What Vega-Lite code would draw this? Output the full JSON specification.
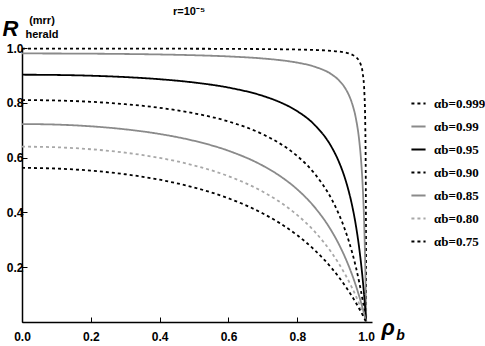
{
  "$schema": "https://vega.github.io/schema/vega-lite/v6.json",
  "autosize": {"type": "none"},
  "padding": {"left": 22, "top": 48, "right": 113, "bottom": 24},
  "width": 350,
  "height": 274,
  "title": {"text": "r=10⁻⁵", "font": "Liberation Sans", "fontSize": 11, "fontWeight": "bold", "offset": -2, "dx": -8, "anchor": "middle", "color": "black"},
  "config": {
    "view": {"stroke": null},
    "axis": {"grid": false, "domainColor": "black", "domainWidth": 1.5, "tickColor": "black", "tickWidth": 1, "labelFont": "Liberation Sans", "labelFontWeight": "bold", "labelFontSize": 12, "labelColor": "black", "labelOverlap": false, "labelFlush": false, "labelBound": false, "titleColor": "black"}
  },
  "layer": [
    {
      "data": {"values": [
        {"a":"0.999","rho":0,"R":0.998},{"a":"0.999","rho":0.1,"R":0.99798},{"a":"0.999","rho":0.2,"R":0.99792},{"a":"0.999","rho":0.3,"R":0.9978},{"a":"0.999","rho":0.4,"R":0.99762},{"a":"0.999","rho":0.5,"R":0.99734},{"a":"0.999","rho":0.6,"R":0.99688},{"a":"0.999","rho":0.7,"R":0.99609},{"a":"0.999","rho":0.75,"R":0.99544},{"a":"0.999","rho":0.8,"R":0.99447},{"a":"0.999","rho":0.85,"R":0.99283},{"a":"0.999","rho":0.9,"R":0.98957},{"a":"0.999","rho":0.92,"R":0.98713},{"a":"0.999","rho":0.94,"R":0.98308},{"a":"0.999","rho":0.95,"R":0.97987},{"a":"0.999","rho":0.96,"R":0.97509},{"a":"0.999","rho":0.97,"R":0.96722},{"a":"0.999","rho":0.98,"R":0.95186},{"a":"0.999","rho":0.985,"R":0.93697},{"a":"0.999","rho":0.99,"R":0.90855},{"a":"0.999","rho":0.995,"R":0.83278},{"a":"0.999","rho":0.9975,"R":0.71373},{"a":"0.999","rho":0.999,"R":0.4995},{"a":"0.999","rho":0.9995,"R":0.33295},{"a":"0.999","rho":0.9998,"R":0.16645},{"a":"0.999","rho":1,"R":0},
        {"a":"0.99","rho":0,"R":0.9801},{"a":"0.99","rho":0.1,"R":0.9799},{"a":"0.99","rho":0.2,"R":0.97929},{"a":"0.99","rho":0.3,"R":0.97818},{"a":"0.99","rho":0.4,"R":0.9764},{"a":"0.99","rho":0.5,"R":0.97364},{"a":"0.99","rho":0.6,"R":0.96925},{"a":"0.99","rho":0.7,"R":0.96171},{"a":"0.99","rho":0.75,"R":0.95565},{"a":"0.99","rho":0.8,"R":0.94661},{"a":"0.99","rho":0.85,"R":0.93182},{"a":"0.99","rho":0.9,"R":0.90346},{"a":"0.99","rho":0.92,"R":0.88325},{"a":"0.99","rho":0.94,"R":0.85148},{"a":"0.99","rho":0.95,"R":0.82765},{"a":"0.99","rho":0.96,"R":0.7943},{"a":"0.99","rho":0.97,"R":0.7443},{"a":"0.99","rho":0.98,"R":0.66106},{"a":"0.99","rho":0.985,"R":0.59456},{"a":"0.99","rho":0.99,"R":0.49497},{"a":"0.99","rho":0.995,"R":0.32944},{"a":"0.99","rho":0.9975,"R":0.1974},{"a":"0.99","rho":0.999,"R":0.08963},{"a":"0.99","rho":1,"R":0},
        {"a":"0.95","rho":0,"R":0.9025},{"a":"0.95","rho":0.1,"R":0.90161},{"a":"0.95","rho":0.2,"R":0.89885},{"a":"0.95","rho":0.3,"R":0.89388},{"a":"0.95","rho":0.4,"R":0.88604},{"a":"0.95","rho":0.5,"R":0.87409},{"a":"0.95","rho":0.6,"R":0.85558},{"a":"0.95","rho":0.7,"R":0.8252},{"a":"0.95","rho":0.75,"R":0.80197},{"a":"0.95","rho":0.8,"R":0.76918},{"a":"0.95","rho":0.85,"R":0.71978},{"a":"0.95","rho":0.9,"R":0.63751},{"a":"0.95","rho":0.92,"R":0.58708},{"a":"0.95","rho":0.94,"R":0.51864},{"a":"0.95","rho":0.95,"R":0.47438},{"a":"0.95","rho":0.96,"R":0.42053},{"a":"0.95","rho":0.97,"R":0.35361},{"a":"0.95","rho":0.98,"R":0.26823},{"a":"0.95","rho":0.985,"R":0.21606},{"a":"0.95","rho":0.99,"R":0.15555},{"a":"0.95","rho":0.995,"R":0.08453},{"a":"0.95","rho":0.9975,"R":0.04418},{"a":"0.95","rho":0.999,"R":0.01817},{"a":"0.95","rho":1,"R":0},
        {"a":"0.90","rho":0,"R":0.81},{"a":"0.90","rho":0.1,"R":0.80845},{"a":"0.90","rho":0.2,"R":0.80364},{"a":"0.90","rho":0.3,"R":0.79506},{"a":"0.90","rho":0.4,"R":0.78171},{"a":"0.90","rho":0.5,"R":0.76176},{"a":"0.90","rho":0.6,"R":0.73179},{"a":"0.90","rho":0.7,"R":0.68496},{"a":"0.90","rho":0.75,"R":0.65098},{"a":"0.90","rho":0.8,"R":0.60549},{"a":"0.90","rho":0.85,"R":0.54192},{"a":"0.90","rho":0.9,"R":0.44751},{"a":"0.90","rho":0.92,"R":0.39571},{"a":"0.90","rho":0.94,"R":0.33166},{"a":"0.90","rho":0.95,"R":0.29362},{"a":"0.90","rho":0.96,"R":0.2505},{"a":"0.90","rho":0.97,"R":0.20125},{"a":"0.90","rho":0.98,"R":0.14444},{"a":"0.90","rho":0.985,"R":0.11264},{"a":"0.90","rho":0.99,"R":0.0782},{"a":"0.90","rho":0.995,"R":0.04079},{"a":"0.90","rho":0.9975,"R":0.02085},{"a":"0.90","rho":0.999,"R":0.00845},{"a":"0.90","rho":1,"R":0},
        {"a":"0.85","rho":0,"R":0.7225},{"a":"0.85","rho":0.1,"R":0.72048},{"a":"0.85","rho":0.2,"R":0.71424},{"a":"0.85","rho":0.3,"R":0.7032},{"a":"0.85","rho":0.4,"R":0.68622},{"a":"0.85","rho":0.5,"R":0.66133},{"a":"0.85","rho":0.6,"R":0.62495},{"a":"0.85","rho":0.7,"R":0.57042},{"a":"0.85","rho":0.75,"R":0.53251},{"a":"0.85","rho":0.8,"R":0.48382},{"a":"0.85","rho":0.85,"R":0.41945},{"a":"0.85","rho":0.9,"R":0.33096},{"a":"0.85","rho":0.92,"R":0.28567},{"a":"0.85","rho":0.94,"R":0.23257},{"a":"0.85","rho":0.95,"R":0.20246},{"a":"0.85","rho":0.96,"R":0.16952},{"a":"0.85","rho":0.97,"R":0.13335},{"a":"0.85","rho":0.98,"R":0.09347},{"a":"0.85","rho":0.985,"R":0.07195},{"a":"0.85","rho":0.99,"R":0.04926},{"a":"0.85","rho":0.995,"R":0.02531},{"a":"0.85","rho":0.9975,"R":0.01284},{"a":"0.85","rho":0.999,"R":0.00518},{"a":"0.85","rho":1,"R":0},
        {"a":"0.80","rho":0,"R":0.64},{"a":"0.80","rho":0.1,"R":0.63768},{"a":"0.80","rho":0.2,"R":0.63054},{"a":"0.80","rho":0.3,"R":0.618},{"a":"0.80","rho":0.4,"R":0.59893},{"a":"0.80","rho":0.5,"R":0.57143},{"a":"0.80","rho":0.6,"R":0.53222},{"a":"0.80","rho":0.7,"R":0.47553},{"a":"0.80","rho":0.75,"R":0.4375},{"a":"0.80","rho":0.8,"R":0.39024},{"a":"0.80","rho":0.85,"R":0.33036},{"a":"0.80","rho":0.9,"R":0.25249},{"a":"0.80","rho":0.92,"R":0.21449},{"a":"0.80","rho":0.94,"R":0.17145},{"a":"0.80","rho":0.95,"R":0.14773},{"a":"0.80","rho":0.96,"R":0.12233},{"a":"0.80","rho":0.97,"R":0.09508},{"a":"0.80","rho":0.98,"R":0.06577},{"a":"0.80","rho":0.985,"R":0.05027},{"a":"0.80","rho":0.99,"R":0.03417},{"a":"0.80","rho":0.995,"R":0.01742},{"a":"0.80","rho":0.9975,"R":0.0088},{"a":"0.80","rho":0.999,"R":0.00354},{"a":"0.80","rho":1,"R":0},
        {"a":"0.75","rho":0,"R":0.5625},{"a":"0.75","rho":0.1,"R":0.56003},{"a":"0.75","rho":0.2,"R":0.55243},{"a":"0.75","rho":0.3,"R":0.53917},{"a":"0.75","rho":0.4,"R":0.51923},{"a":"0.75","rho":0.5,"R":0.49091},{"a":"0.75","rho":0.6,"R":0.45141},{"a":"0.75","rho":0.7,"R":0.39603},{"a":"0.75","rho":0.75,"R":0.36},{"a":"0.75","rho":0.8,"R":0.31641},{"a":"0.75","rho":0.85,"R":0.26296},{"a":"0.75","rho":0.9,"R":0.19633},{"a":"0.75","rho":0.92,"R":0.16492},{"a":"0.75","rho":0.94,"R":0.13018},{"a":"0.75","rho":0.95,"R":0.11139},{"a":"0.75","rho":0.96,"R":0.09157},{"a":"0.75","rho":0.97,"R":0.07062},{"a":"0.75","rho":0.98,"R":0.04845},{"a":"0.75","rho":0.985,"R":0.03687},{"a":"0.75","rho":0.99,"R":0.02495},{"a":"0.75","rho":0.995,"R":0.01266},{"a":"0.75","rho":0.9975,"R":0.00638},{"a":"0.75","rho":0.999,"R":0.00256},{"a":"0.75","rho":1,"R":0}
      ]},
      "mark": {"type": "line", "interpolate": "monotone", "strokeWidth": 1.8},
      "encoding": {
        "x": {"field": "rho", "type": "quantitative", "scale": {"domain": [0, 1.017], "nice": false, "zero": false},
          "axis": {"values": [0,0.05,0.1,0.15,0.2,0.25,0.3,0.35,0.4,0.45,0.5,0.55,0.6,0.65,0.7,0.75,0.8,0.85,0.9,0.95,1.0],
            "labelExpr": "abs(round(datum.value*5)-datum.value*5)<0.001 ? format(datum.value,'.1f') : ''",
            "tickSize": {"condition": {"test": "abs(round(datum.value*5)-datum.value*5)<0.001", "value": -5}, "value": -3},
            "labelPadding": 14,
            "title": "ρ", "titleFont": "Liberation Sans", "titleFontSize": 22, "titleFontStyle": "italic", "titleFontWeight": "bold",
            "titleX": 359, "titleY": 12, "titleAlign": "left", "titleBaseline": "alphabetic", "titleAngle": 0}},
        "y": {"field": "R", "type": "quantitative", "scale": {"domain": [0, 1], "nice": false},
          "axis": {"values": [0,0.05,0.1,0.15,0.2,0.25,0.3,0.35,0.4,0.45,0.5,0.55,0.6,0.65,0.7,0.75,0.8,0.85,0.9,0.95,1.0],
            "labelExpr": "datum.value > 0.01 && abs(round(datum.value*5)-datum.value*5)<0.001 ? format(datum.value,'.1f') : ''",
            "tickSize": {"condition": {"test": "abs(round(datum.value*5)-datum.value*5)<0.001", "value": -5}, "value": -3},
            "labelPadding": 4,
            "title": "R", "titleFont": "Liberation Sans", "titleFontSize": 22, "titleFontStyle": "italic", "titleFontWeight": "bold",
            "titleX": -20, "titleY": -13, "titleAlign": "left", "titleBaseline": "alphabetic", "titleAngle": 0}},
        "color": {"field": "a", "type": "nominal",
          "scale": {"domain": ["0.999","0.99","0.95","0.90","0.85","0.80","0.75"], "range": ["#000000","#8a8a8a","#000000","#000000","#8a8a8a","#a8a8a8","#000000"]},
          "legend": {"orient": "none", "legendX": 388, "legendY": 47, "title": null, "symbolType": "stroke", "symbolSize": 200, "symbolStrokeWidth": 2,
            "labelFont": "Liberation Serif", "labelFontSize": 13, "labelFontWeight": "bold", "labelColor": "black", "labelExpr": "'αb=' + datum.label", "rowPadding": 7, "labelOffset": 7}},
        "strokeDash": {"field": "a", "type": "nominal",
          "scale": {"domain": ["0.999","0.99","0.95","0.90","0.85","0.80","0.75"], "range": [[3,3],[1,0],[1,0],[3,3],[1,0],[3,3],[3,3]]},
          "legend": {"orient": "none", "legendX": 388, "legendY": 47, "title": null, "symbolType": "stroke", "symbolSize": 200, "symbolStrokeWidth": 2,
            "labelFont": "Liberation Serif", "labelFontSize": 13, "labelFontWeight": "bold", "labelColor": "black", "labelExpr": "'αb=' + datum.label", "rowPadding": 7, "labelOffset": 7}}
      }
    },
    {
      "data": {"values": [{}]},
      "mark": {"type": "text", "text": "(mrr)", "font": "Liberation Sans", "fontSize": 11, "fontWeight": "bold", "align": "center", "baseline": "middle", "color": "black"},
      "encoding": {"x": {"datum": 0.058, "type": "quantitative"}, "y": {"datum": 1.099, "type": "quantitative"}}
    },
    {
      "data": {"values": [{}]},
      "mark": {"type": "text", "text": "herald", "font": "Liberation Sans", "fontSize": 11, "fontWeight": "bold", "align": "center", "baseline": "middle", "color": "black"},
      "encoding": {"x": {"datum": 0.058, "type": "quantitative"}, "y": {"datum": 1.047, "type": "quantitative"}}
    },
    {
      "data": {"values": [{}]},
      "mark": {"type": "text", "text": "b", "font": "Liberation Sans", "fontSize": 14, "fontStyle": "italic", "fontWeight": "bold", "align": "center", "baseline": "middle", "color": "black"},
      "encoding": {"x": {"datum": 1.1, "type": "quantitative"}, "y": {"datum": -0.05, "type": "quantitative"}}
    }
  ]
}
